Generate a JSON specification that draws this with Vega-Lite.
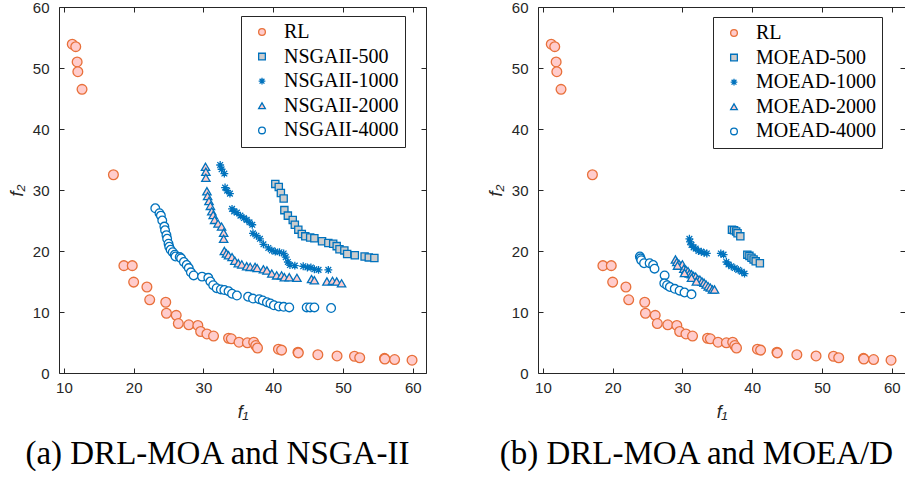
{
  "$schema": "https://vega.github.io/schema/vega-lite/v6.json",
  "background": "white",
  "padding": {"left": 8, "top": 0, "right": 0, "bottom": 0},
  "bounds": "flush",
  "spacing": 112,
  "config": {
    "view": {"stroke": null},
    "font": "Liberation Sans",
    "axis": {
      "grid": false,
      "domainColor": "#262626",
      "domainWidth": 1,
      "tickColor": "#262626",
      "tickWidth": 1,
      "tickSize": -5,
      "labelColor": "#262626",
      "labelFont": "Liberation Sans",
      "labelFontSize": 15,
      "titleFont": "Liberation Sans",
      "titleFontSize": 18,
      "titleFontStyle": "italic",
      "titleFontWeight": "normal",
      "titleColor": "#262626"
    },
    "legend": {
      "labelFont": "Liberation Serif",
      "labelFontSize": 20,
      "labelColor": "black",
      "symbolSize": 45,
      "symbolStrokeWidth": 1.3,
      "strokeColor": "#262626",
      "fillColor": "white",
      "padding": 6,
      "rowPadding": 4.6,
      "symbolOffset": 5,
      "labelOffset": 12,
      "labelLimit": 400
    },
    "title": {"font": "Liberation Serif", "fontSize": 33, "fontWeight": "normal", "color": "black"}
  },
  "datasets": {
    "d": [
      {"s": "RL", "f1": 11.2, "f2": 53.9}, {"s": "RL", "f1": 11.7, "f2": 53.5}, {"s": "RL", "f1": 11.9, "f2": 51.0}, {"s": "RL", "f1": 12.0, "f2": 49.4}, {"s": "RL", "f1": 12.6, "f2": 46.5}, {"s": "RL", "f1": 17.1, "f2": 32.5},
      {"s": "RL", "f1": 18.6, "f2": 17.6}, {"s": "RL", "f1": 19.8, "f2": 17.6}, {"s": "RL", "f1": 20.0, "f2": 14.9}, {"s": "RL", "f1": 21.9, "f2": 14.1}, {"s": "RL", "f1": 22.3, "f2": 12.0}, {"s": "RL", "f1": 24.6, "f2": 11.6},
      {"s": "RL", "f1": 24.7, "f2": 9.8}, {"s": "RL", "f1": 26.1, "f2": 9.45}, {"s": "RL", "f1": 26.4, "f2": 8.1}, {"s": "RL", "f1": 27.9, "f2": 7.9}, {"s": "RL", "f1": 29.2, "f2": 7.8}, {"s": "RL", "f1": 29.6, "f2": 6.8},
      {"s": "RL", "f1": 30.5, "f2": 6.4}, {"s": "RL", "f1": 31.45, "f2": 6.05}, {"s": "RL", "f1": 33.6, "f2": 5.7}, {"s": "RL", "f1": 34.0, "f2": 5.6}, {"s": "RL", "f1": 35.1, "f2": 5.05}, {"s": "RL", "f1": 36.3, "f2": 4.95},
      {"s": "RL", "f1": 37.2, "f2": 5.05}, {"s": "RL", "f1": 37.5, "f2": 4.5}, {"s": "RL", "f1": 37.75, "f2": 4.1}, {"s": "RL", "f1": 40.75, "f2": 3.9}, {"s": "RL", "f1": 41.2, "f2": 3.75}, {"s": "RL", "f1": 43.55, "f2": 3.4},
      {"s": "RL", "f1": 43.6, "f2": 3.3}, {"s": "RL", "f1": 46.4, "f2": 3.0}, {"s": "RL", "f1": 49.15, "f2": 2.8}, {"s": "RL", "f1": 51.65, "f2": 2.75}, {"s": "RL", "f1": 52.4, "f2": 2.5}, {"s": "RL", "f1": 55.95, "f2": 2.4},
      {"s": "RL", "f1": 56.0, "f2": 2.3}, {"s": "RL", "f1": 57.4, "f2": 2.2}, {"s": "RL", "f1": 59.9, "f2": 2.1},

      {"s": "NSGAII-500", "f1": 40.3, "f2": 31.0}, {"s": "NSGAII-500", "f1": 40.8, "f2": 30.5}, {"s": "NSGAII-500", "f1": 41.1, "f2": 29.5}, {"s": "NSGAII-500", "f1": 41.5, "f2": 28.6}, {"s": "NSGAII-500", "f1": 41.6, "f2": 26.7}, {"s": "NSGAII-500", "f1": 42.1, "f2": 25.8},
      {"s": "NSGAII-500", "f1": 42.8, "f2": 25.1}, {"s": "NSGAII-500", "f1": 43.1, "f2": 24.3}, {"s": "NSGAII-500", "f1": 43.6, "f2": 23.5}, {"s": "NSGAII-500", "f1": 44.1, "f2": 22.8}, {"s": "NSGAII-500", "f1": 44.6, "f2": 22.4}, {"s": "NSGAII-500", "f1": 45.3, "f2": 22.2},
      {"s": "NSGAII-500", "f1": 45.9, "f2": 22.1}, {"s": "NSGAII-500", "f1": 47.0, "f2": 21.6}, {"s": "NSGAII-500", "f1": 47.9, "f2": 21.3}, {"s": "NSGAII-500", "f1": 48.6, "f2": 21.2}, {"s": "NSGAII-500", "f1": 49.1, "f2": 20.8}, {"s": "NSGAII-500", "f1": 49.5, "f2": 20.3},
      {"s": "NSGAII-500", "f1": 50.2, "f2": 20.1}, {"s": "NSGAII-500", "f1": 50.6, "f2": 19.5}, {"s": "NSGAII-500", "f1": 51.7, "f2": 19.3}, {"s": "NSGAII-500", "f1": 53.1, "f2": 19.1}, {"s": "NSGAII-500", "f1": 53.7, "f2": 18.95}, {"s": "NSGAII-500", "f1": 54.5, "f2": 18.85},

      {"s": "NSGAII-1000", "f1": 32.4, "f2": 34.1}, {"s": "NSGAII-1000", "f1": 32.6, "f2": 33.4}, {"s": "NSGAII-1000", "f1": 33.0, "f2": 32.7}, {"s": "NSGAII-1000", "f1": 33.1, "f2": 30.4}, {"s": "NSGAII-1000", "f1": 33.4, "f2": 29.9}, {"s": "NSGAII-1000", "f1": 33.8, "f2": 29.4},
      {"s": "NSGAII-1000", "f1": 34.1, "f2": 26.9}, {"s": "NSGAII-1000", "f1": 34.4, "f2": 26.5}, {"s": "NSGAII-1000", "f1": 34.8, "f2": 26.3}, {"s": "NSGAII-1000", "f1": 35.3, "f2": 25.8}, {"s": "NSGAII-1000", "f1": 35.8, "f2": 25.4}, {"s": "NSGAII-1000", "f1": 36.2, "f2": 25.1},
      {"s": "NSGAII-1000", "f1": 36.6, "f2": 24.7}, {"s": "NSGAII-1000", "f1": 37.0, "f2": 24.3}, {"s": "NSGAII-1000", "f1": 37.1, "f2": 22.9}, {"s": "NSGAII-1000", "f1": 37.6, "f2": 22.5}, {"s": "NSGAII-1000", "f1": 38.1, "f2": 22.0}, {"s": "NSGAII-1000", "f1": 38.6, "f2": 21.1},
      {"s": "NSGAII-1000", "f1": 39.3, "f2": 20.5}, {"s": "NSGAII-1000", "f1": 39.8, "f2": 20.1}, {"s": "NSGAII-1000", "f1": 40.3, "f2": 19.9}, {"s": "NSGAII-1000", "f1": 40.9, "f2": 19.8}, {"s": "NSGAII-1000", "f1": 41.5, "f2": 19.6}, {"s": "NSGAII-1000", "f1": 41.8, "f2": 19.0},
      {"s": "NSGAII-1000", "f1": 42.1, "f2": 18.2}, {"s": "NSGAII-1000", "f1": 42.4, "f2": 17.7}, {"s": "NSGAII-1000", "f1": 43.1, "f2": 17.6}, {"s": "NSGAII-1000", "f1": 44.3, "f2": 17.5}, {"s": "NSGAII-1000", "f1": 44.9, "f2": 17.3}, {"s": "NSGAII-1000", "f1": 45.4, "f2": 17.3},
      {"s": "NSGAII-1000", "f1": 45.9, "f2": 17.0}, {"s": "NSGAII-1000", "f1": 46.5, "f2": 16.9}, {"s": "NSGAII-1000", "f1": 47.9, "f2": 16.9},

      {"s": "NSGAII-2000", "f1": 30.3, "f2": 33.8}, {"s": "NSGAII-2000", "f1": 30.35, "f2": 33.0}, {"s": "NSGAII-2000", "f1": 30.35, "f2": 32.0}, {"s": "NSGAII-2000", "f1": 30.5, "f2": 29.8}, {"s": "NSGAII-2000", "f1": 30.6, "f2": 29.0}, {"s": "NSGAII-2000", "f1": 30.8, "f2": 28.2},
      {"s": "NSGAII-2000", "f1": 31.0, "f2": 27.4}, {"s": "NSGAII-2000", "f1": 31.2, "f2": 26.5}, {"s": "NSGAII-2000", "f1": 31.4, "f2": 25.9}, {"s": "NSGAII-2000", "f1": 31.6, "f2": 25.1}, {"s": "NSGAII-2000", "f1": 32.1, "f2": 24.5}, {"s": "NSGAII-2000", "f1": 32.6, "f2": 24.0},
      {"s": "NSGAII-2000", "f1": 32.9, "f2": 23.0}, {"s": "NSGAII-2000", "f1": 32.9, "f2": 22.0}, {"s": "NSGAII-2000", "f1": 33.0, "f2": 20.0}, {"s": "NSGAII-2000", "f1": 33.3, "f2": 19.6}, {"s": "NSGAII-2000", "f1": 33.6, "f2": 19.3}, {"s": "NSGAII-2000", "f1": 34.1, "f2": 19.0},
      {"s": "NSGAII-2000", "f1": 34.5, "f2": 18.4}, {"s": "NSGAII-2000", "f1": 35.0, "f2": 18.0}, {"s": "NSGAII-2000", "f1": 35.5, "f2": 17.8}, {"s": "NSGAII-2000", "f1": 36.2, "f2": 17.5}, {"s": "NSGAII-2000", "f1": 36.7, "f2": 17.4}, {"s": "NSGAII-2000", "f1": 37.4, "f2": 17.4},
      {"s": "NSGAII-2000", "f1": 37.7, "f2": 17.2}, {"s": "NSGAII-2000", "f1": 38.6, "f2": 17.0}, {"s": "NSGAII-2000", "f1": 39.1, "f2": 16.8}, {"s": "NSGAII-2000", "f1": 39.8, "f2": 16.3}, {"s": "NSGAII-2000", "f1": 40.5, "f2": 16.0}, {"s": "NSGAII-2000", "f1": 41.2, "f2": 16.0},
      {"s": "NSGAII-2000", "f1": 41.6, "f2": 15.7}, {"s": "NSGAII-2000", "f1": 42.3, "f2": 15.7}, {"s": "NSGAII-2000", "f1": 43.4, "f2": 15.6}, {"s": "NSGAII-2000", "f1": 45.5, "f2": 15.4}, {"s": "NSGAII-2000", "f1": 45.9, "f2": 15.2}, {"s": "NSGAII-2000", "f1": 47.7, "f2": 15.0},
      {"s": "NSGAII-2000", "f1": 48.5, "f2": 15.1}, {"s": "NSGAII-2000", "f1": 49.1, "f2": 15.0}, {"s": "NSGAII-2000", "f1": 49.8, "f2": 14.7},

      {"s": "NSGAII-4000", "f1": 23.1, "f2": 27.0}, {"s": "NSGAII-4000", "f1": 23.7, "f2": 26.2}, {"s": "NSGAII-4000", "f1": 23.9, "f2": 25.8}, {"s": "NSGAII-4000", "f1": 24.1, "f2": 25.0}, {"s": "NSGAII-4000", "f1": 24.4, "f2": 24.0}, {"s": "NSGAII-4000", "f1": 24.5, "f2": 23.4},
      {"s": "NSGAII-4000", "f1": 24.7, "f2": 22.6}, {"s": "NSGAII-4000", "f1": 24.8, "f2": 22.0}, {"s": "NSGAII-4000", "f1": 25.0, "f2": 21.2}, {"s": "NSGAII-4000", "f1": 25.1, "f2": 20.7}, {"s": "NSGAII-4000", "f1": 25.3, "f2": 20.2}, {"s": "NSGAII-4000", "f1": 25.6, "f2": 19.8},
      {"s": "NSGAII-4000", "f1": 25.9, "f2": 19.4}, {"s": "NSGAII-4000", "f1": 26.0, "f2": 19.1}, {"s": "NSGAII-4000", "f1": 26.6, "f2": 19.0}, {"s": "NSGAII-4000", "f1": 26.8, "f2": 18.8}, {"s": "NSGAII-4000", "f1": 27.2, "f2": 18.2}, {"s": "NSGAII-4000", "f1": 27.6, "f2": 17.7},
      {"s": "NSGAII-4000", "f1": 27.9, "f2": 17.2}, {"s": "NSGAII-4000", "f1": 28.2, "f2": 16.5}, {"s": "NSGAII-4000", "f1": 28.6, "f2": 16.0}, {"s": "NSGAII-4000", "f1": 29.8, "f2": 15.8}, {"s": "NSGAII-4000", "f1": 30.7, "f2": 15.6}, {"s": "NSGAII-4000", "f1": 31.0, "f2": 15.0},
      {"s": "NSGAII-4000", "f1": 31.4, "f2": 14.4}, {"s": "NSGAII-4000", "f1": 31.9, "f2": 13.9}, {"s": "NSGAII-4000", "f1": 32.5, "f2": 13.7}, {"s": "NSGAII-4000", "f1": 33.0, "f2": 13.6}, {"s": "NSGAII-4000", "f1": 33.6, "f2": 13.4}, {"s": "NSGAII-4000", "f1": 34.1, "f2": 13.0},
      {"s": "NSGAII-4000", "f1": 34.8, "f2": 12.7}, {"s": "NSGAII-4000", "f1": 36.4, "f2": 12.5}, {"s": "NSGAII-4000", "f1": 37.1, "f2": 12.2}, {"s": "NSGAII-4000", "f1": 38.0, "f2": 12.1}, {"s": "NSGAII-4000", "f1": 38.5, "f2": 11.9}, {"s": "NSGAII-4000", "f1": 39.1, "f2": 11.6},
      {"s": "NSGAII-4000", "f1": 39.6, "f2": 11.4}, {"s": "NSGAII-4000", "f1": 40.1, "f2": 11.1}, {"s": "NSGAII-4000", "f1": 40.8, "f2": 10.9}, {"s": "NSGAII-4000", "f1": 41.5, "f2": 10.85}, {"s": "NSGAII-4000", "f1": 42.3, "f2": 10.75}, {"s": "NSGAII-4000", "f1": 44.8, "f2": 10.75},
      {"s": "NSGAII-4000", "f1": 45.3, "f2": 10.75}, {"s": "NSGAII-4000", "f1": 45.9, "f2": 10.75}, {"s": "NSGAII-4000", "f1": 48.3, "f2": 10.65},

      {"s": "MOEAD-500", "f1": 37.1, "f2": 23.5}, {"s": "MOEAD-500", "f1": 37.4, "f2": 23.4}, {"s": "MOEAD-500", "f1": 37.7, "f2": 23.2}, {"s": "MOEAD-500", "f1": 37.9, "f2": 22.9}, {"s": "MOEAD-500", "f1": 38.3, "f2": 22.4}, {"s": "MOEAD-500", "f1": 39.3, "f2": 19.4},
      {"s": "MOEAD-500", "f1": 39.6, "f2": 19.2}, {"s": "MOEAD-500", "f1": 39.9, "f2": 18.9}, {"s": "MOEAD-500", "f1": 40.2, "f2": 18.6}, {"s": "MOEAD-500", "f1": 40.5, "f2": 18.3}, {"s": "MOEAD-500", "f1": 41.1, "f2": 18.0},

      {"s": "MOEAD-1000", "f1": 31.0, "f2": 22.0}, {"s": "MOEAD-1000", "f1": 31.1, "f2": 21.5}, {"s": "MOEAD-1000", "f1": 31.3, "f2": 21.0}, {"s": "MOEAD-1000", "f1": 31.6, "f2": 20.6}, {"s": "MOEAD-1000", "f1": 31.9, "f2": 20.4}, {"s": "MOEAD-1000", "f1": 32.3, "f2": 20.0},
      {"s": "MOEAD-1000", "f1": 32.7, "f2": 19.9}, {"s": "MOEAD-1000", "f1": 33.1, "f2": 19.7}, {"s": "MOEAD-1000", "f1": 33.5, "f2": 19.6}, {"s": "MOEAD-1000", "f1": 35.5, "f2": 19.6}, {"s": "MOEAD-1000", "f1": 35.9, "f2": 19.4}, {"s": "MOEAD-1000", "f1": 36.3, "f2": 18.2},
      {"s": "MOEAD-1000", "f1": 36.6, "f2": 17.8}, {"s": "MOEAD-1000", "f1": 37.0, "f2": 17.5}, {"s": "MOEAD-1000", "f1": 37.5, "f2": 17.2}, {"s": "MOEAD-1000", "f1": 38.0, "f2": 16.9}, {"s": "MOEAD-1000", "f1": 38.5, "f2": 16.6}, {"s": "MOEAD-1000", "f1": 38.9, "f2": 16.3},

      {"s": "MOEAD-2000", "f1": 29.0, "f2": 18.6}, {"s": "MOEAD-2000", "f1": 29.2, "f2": 18.2}, {"s": "MOEAD-2000", "f1": 29.5, "f2": 17.9}, {"s": "MOEAD-2000", "f1": 29.8, "f2": 17.6}, {"s": "MOEAD-2000", "f1": 30.0, "f2": 17.8}, {"s": "MOEAD-2000", "f1": 30.2, "f2": 17.1},
      {"s": "MOEAD-2000", "f1": 30.5, "f2": 16.9}, {"s": "MOEAD-2000", "f1": 30.8, "f2": 16.7}, {"s": "MOEAD-2000", "f1": 31.0, "f2": 16.3}, {"s": "MOEAD-2000", "f1": 31.3, "f2": 16.2}, {"s": "MOEAD-2000", "f1": 31.6, "f2": 15.9}, {"s": "MOEAD-2000", "f1": 31.9, "f2": 15.8},
      {"s": "MOEAD-2000", "f1": 32.2, "f2": 15.4}, {"s": "MOEAD-2000", "f1": 32.5, "f2": 15.3}, {"s": "MOEAD-2000", "f1": 32.8, "f2": 15.0}, {"s": "MOEAD-2000", "f1": 33.1, "f2": 14.8}, {"s": "MOEAD-2000", "f1": 33.4, "f2": 14.5}, {"s": "MOEAD-2000", "f1": 33.7, "f2": 14.2},
      {"s": "MOEAD-2000", "f1": 34.0, "f2": 14.0}, {"s": "MOEAD-2000", "f1": 34.3, "f2": 13.7}, {"s": "MOEAD-2000", "f1": 34.6, "f2": 13.7}, {"s": "MOEAD-2000", "f1": 29.3, "f2": 17.6}, {"s": "MOEAD-2000", "f1": 30.3, "f2": 16.4}, {"s": "MOEAD-2000", "f1": 31.3, "f2": 15.6},
      {"s": "MOEAD-2000", "f1": 32.0, "f2": 15.0},

      {"s": "MOEAD-4000", "f1": 23.9, "f2": 19.1}, {"s": "MOEAD-4000", "f1": 24.0, "f2": 18.8}, {"s": "MOEAD-4000", "f1": 24.1, "f2": 18.5}, {"s": "MOEAD-4000", "f1": 24.5, "f2": 18.0}, {"s": "MOEAD-4000", "f1": 25.3, "f2": 18.0}, {"s": "MOEAD-4000", "f1": 25.8, "f2": 17.7},
      {"s": "MOEAD-4000", "f1": 26.0, "f2": 17.1}, {"s": "MOEAD-4000", "f1": 27.45, "f2": 16.0}, {"s": "MOEAD-4000", "f1": 27.4, "f2": 14.7}, {"s": "MOEAD-4000", "f1": 27.8, "f2": 14.4}, {"s": "MOEAD-4000", "f1": 28.2, "f2": 14.1}, {"s": "MOEAD-4000", "f1": 28.9, "f2": 13.8},
      {"s": "MOEAD-4000", "f1": 29.6, "f2": 13.5}, {"s": "MOEAD-4000", "f1": 30.3, "f2": 13.2}, {"s": "MOEAD-4000", "f1": 31.3, "f2": 12.9}
    ]
  },
  "hconcat": [
    {
      "width": 367,
      "height": 366,
      "title": {"text": "(a) DRL-MOA and NSGA-II", "orient": "bottom", "anchor": "middle", "frame": "bounds", "offset": 17},
      "data": {"name": "d"},
      "transform": [{"filter": "datum.s == 'RL' || indexof(datum.s, 'NSGAII') == 0"}],
      "layer": [
        {
          "mark": {"type": "point", "opacity": 1, "fillOpacity": 1, "strokeWidth": 1.3},
          "encoding": {
            "x": {"field": "f1", "type": "quantitative", "scale": {"domain": [9.3, 61.9], "nice": false, "zero": false},
                  "axis": {"values": [10, 20, 30, 40, 50, 60], "title": "f₁", "labelPadding": 12, "titlePadding": 8}},
            "y": {"field": "f2", "type": "quantitative", "scale": {"domain": [0, 60], "nice": false, "zero": false},
                  "axis": {"values": [0, 10, 20, 30, 40, 50, 60], "title": "f₂", "labelPadding": 15, "titlePadding": 6}},
            "shape": {"field": "s", "type": "nominal",
                      "scale": {"domain": ["RL", "NSGAII-500", "NSGAII-1000", "NSGAII-2000", "NSGAII-4000"],
                                "range": ["circle", "square", "M-1,0L1,0M0,-1L0,1M-0.72,-0.72L0.72,0.72M-0.72,0.72L0.72,-0.72", "triangle-up", "circle"]},
                      "legend": {"title": null, "orient": "none", "legendX": 182, "legendY": 9,
                                 "encode": {"labels": {"update": {"text": {"signal": "datum.label + '\u2003'"}}}}}},
            "stroke": {"field": "s", "type": "nominal",
                       "scale": {"domain": ["RL", "NSGAII-500", "NSGAII-1000", "NSGAII-2000", "NSGAII-4000"],
                                 "range": ["#E8703A", "#0072BD", "#0072BD", "#0072BD", "#0072BD"]}},
            "fill": {"field": "s", "type": "nominal",
                     "scale": {"domain": ["RL", "NSGAII-500", "NSGAII-1000", "NSGAII-2000", "NSGAII-4000"],
                               "range": ["#FFCCCC", "#CCCCCC", "#0072BD", "#FFCCCC", "#FFFFFF"]}},
            "size": {"condition": [{"test": "datum.s == 'RL'", "value": 95}, {"test": "indexof(datum.s, '-500') > 0", "value": 52}, {"test": "indexof(datum.s, '-1000') > 0", "value": 62}, {"test": "indexof(datum.s, '-2000') > 0", "value": 70}], "value": 75}
          }
        },
        {
          "mark": {"type": "point", "opacity": 0},
          "encoding": {
            "x": {"field": "f1", "type": "quantitative", "axis": {"orient": "top", "values": [10, 20, 30, 40, 50, 60], "labels": false, "title": null}},
            "y": {"field": "f2", "type": "quantitative", "axis": {"orient": "right", "values": [0, 10, 20, 30, 40, 50, 60], "labels": false, "title": null}}
          }
        }
      ],
      "resolve": {"axis": {"x": "independent", "y": "independent"}}
    },
    {
      "width": 367,
      "height": 366,
      "title": {"text": "(b) DRL-MOA and MOEA/D", "orient": "bottom", "anchor": "middle", "frame": "bounds", "offset": 17},
      "data": {"name": "d"},
      "transform": [{"filter": "datum.s == 'RL' || indexof(datum.s, 'MOEAD') == 0"}],
      "layer": [
        {
          "mark": {"type": "point", "opacity": 1, "fillOpacity": 1, "strokeWidth": 1.3},
          "encoding": {
            "x": {"field": "f1", "type": "quantitative", "scale": {"domain": [9.3, 61.9], "nice": false, "zero": false},
                  "axis": {"values": [10, 20, 30, 40, 50, 60], "title": "f₁", "labelPadding": 12, "titlePadding": 8}},
            "y": {"field": "f2", "type": "quantitative", "scale": {"domain": [0, 60], "nice": false, "zero": false},
                  "axis": {"values": [0, 10, 20, 30, 40, 50, 60], "title": "f₂", "labelPadding": 15, "titlePadding": 6}},
            "shape": {"field": "s", "type": "nominal",
                      "scale": {"domain": ["RL", "MOEAD-500", "MOEAD-1000", "MOEAD-2000", "MOEAD-4000"],
                                "range": ["circle", "square", "M-1,0L1,0M0,-1L0,1M-0.72,-0.72L0.72,0.72M-0.72,0.72L0.72,-0.72", "triangle-up", "circle"]},
                      "legend": {"title": null, "orient": "none", "legendX": 175, "legendY": 10,
                                 "encode": {"labels": {"update": {"text": {"signal": "datum.label + '\u2003'"}}}}}},
            "stroke": {"field": "s", "type": "nominal",
                       "scale": {"domain": ["RL", "MOEAD-500", "MOEAD-1000", "MOEAD-2000", "MOEAD-4000"],
                                 "range": ["#E8703A", "#0072BD", "#0072BD", "#0072BD", "#0072BD"]}},
            "fill": {"field": "s", "type": "nominal",
                     "scale": {"domain": ["RL", "MOEAD-500", "MOEAD-1000", "MOEAD-2000", "MOEAD-4000"],
                               "range": ["#FFCCCC", "#CCCCCC", "#0072BD", "#FFCCCC", "#FFFFFF"]}},
            "size": {"condition": [{"test": "datum.s == 'RL'", "value": 95}, {"test": "indexof(datum.s, '-500') > 0", "value": 52}, {"test": "indexof(datum.s, '-1000') > 0", "value": 62}, {"test": "indexof(datum.s, '-2000') > 0", "value": 70}], "value": 75}
          }
        },
        {
          "mark": {"type": "point", "opacity": 0},
          "encoding": {
            "x": {"field": "f1", "type": "quantitative", "axis": {"orient": "top", "values": [10, 20, 30, 40, 50, 60], "labels": false, "title": null}},
            "y": {"field": "f2", "type": "quantitative", "axis": {"orient": "right", "values": [0, 10, 20, 30, 40, 50, 60], "labels": false, "title": null}}
          }
        }
      ],
      "resolve": {"axis": {"x": "independent", "y": "independent"}}
    }
  ],
  "resolve": {"scale": {"x": "independent", "y": "independent", "shape": "independent", "stroke": "independent", "fill": "independent"},
              "legend": {"shape": "independent", "stroke": "independent", "fill": "independent"}}
}
